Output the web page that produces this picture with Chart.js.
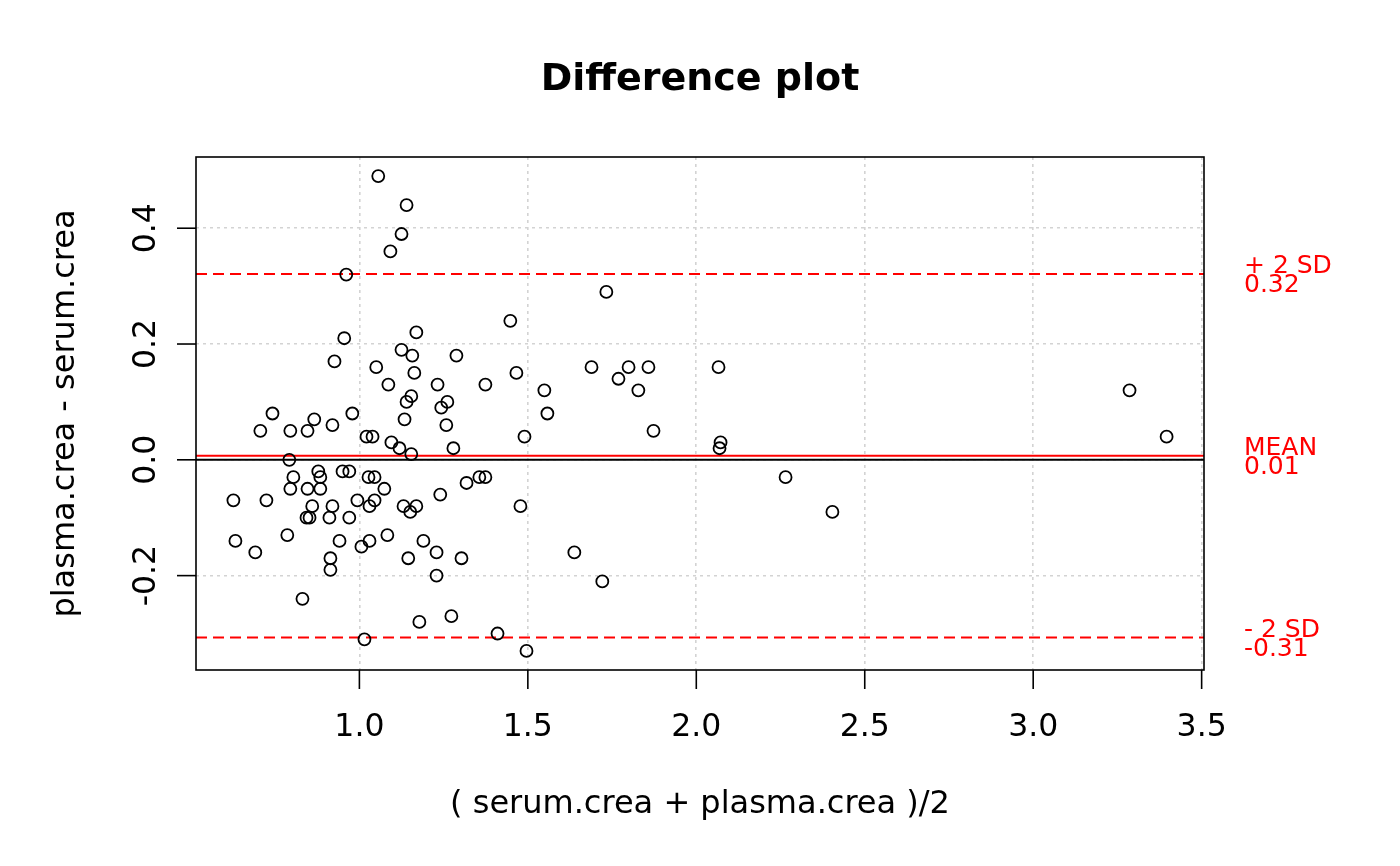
<!DOCTYPE html>
<html>
<head>
<meta charset="utf-8">
<title>Difference plot</title>
<script src="https://cdn.jsdelivr.net/npm/chart.js@4.4.1/dist/chart.umd.min.js"></script>
<style>
  html, body { margin: 0; padding: 0; background: #fff; }
  #wrap { width: 1400px; height: 866px; }
</style>
</head>
<body>
<div id="wrap"><canvas id="plot" width="1400" height="866"></canvas></div>
<script>
// (serum + plasma)/2 for each sample
const meanVals = [
  0.626, 0.632, 0.691, 0.706, 0.724, 0.742, 0.786, 0.792, 0.795, 0.795,
  0.804, 0.831, 0.843, 0.846, 0.846, 0.852, 0.860, 0.866, 0.878, 0.884,
  0.884, 0.911, 0.914, 0.914, 0.920, 0.920, 0.926, 0.941, 0.950, 0.955,
  0.961, 0.970, 0.970, 0.979, 0.994, 1.006, 1.015, 1.021, 1.027, 1.030,
  1.030, 1.039, 1.045, 1.045, 1.050, 1.056, 1.074, 1.083, 1.086, 1.092,
  1.095, 1.119, 1.125, 1.125, 1.131, 1.134, 1.140, 1.140, 1.145, 1.151,
  1.154, 1.154, 1.157, 1.163, 1.169, 1.169, 1.178, 1.190, 1.229, 1.229,
  1.232, 1.240, 1.243, 1.258, 1.261, 1.273, 1.279, 1.288, 1.303, 1.318,
  1.356, 1.374, 1.374, 1.410, 1.448, 1.466, 1.478, 1.490, 1.496, 1.549,
  1.558, 1.638, 1.689, 1.721, 1.733, 1.769, 1.799, 1.828, 1.858, 1.873,
  2.066, 2.069, 2.072, 2.265, 2.404, 3.286, 3.396
];
// plasma - serum for each sample
const diffVals = [
  -0.07, -0.14, -0.16, 0.05, -0.07, 0.08, -0.13, 0.00, 0.05, -0.05,
  -0.03, -0.24, -0.10, 0.05, -0.05, -0.10, -0.08, 0.07, -0.02, -0.03,
  -0.05, -0.10, -0.17, -0.19, -0.08, 0.06, 0.17, -0.14, -0.02, 0.21,
  0.32, -0.02, -0.10, 0.08, -0.07, -0.15, -0.31, 0.04, -0.03, -0.08,
  -0.14, 0.04, -0.03, -0.07, 0.16, 0.49, -0.05, -0.13, 0.13, 0.36,
  0.03, 0.02, 0.19, 0.39, -0.08, 0.07, 0.44, 0.10, -0.17, -0.09,
  0.11, 0.01, 0.18, 0.15, -0.08, 0.22, -0.28, -0.14, -0.16, -0.20,
  0.13, -0.06, 0.09, 0.06, 0.10, -0.27, 0.02, 0.18, -0.17, -0.04,
  -0.03, -0.03, 0.13, -0.30, 0.24, 0.15, -0.08, 0.04, -0.33, 0.12,
  0.08, -0.16, 0.16, -0.21, 0.29, 0.14, 0.16, 0.12, 0.16, 0.05,
  0.16, 0.02, 0.03, -0.03, -0.09, 0.12, 0.04
];
const xTicks = [1.0, 1.5, 2.0, 2.5, 3.0, 3.5];
const yTicks = [-0.2, 0.0, 0.2, 0.4];
const xRange = [0.515, 3.507];
const yRange = [-0.363, 0.523];
const meanDiff = 0.007;
const upperLimit = 0.321;
const lowerLimit = -0.307;
const refLines = [
  { value: upperLimit, text: ["+ 2 SD", "0.32"] },
  { value: meanDiff, text: ["MEAN", "0.01"] },
  { value: lowerLimit, text: ["- 2 SD", "-0.31"] }
];

const FONT = '"DejaVu Sans", "Liberation Sans", sans-serif';

const points = meanVals.map((m, i) => ({ x: m, y: diffVals[i] }));
const hLine = v => [{ x: xRange[0], y: v }, { x: xRange[1], y: v }];

// axes, box, titles and the red labels, drawn R-style from the chart scales
const rAxes = {
  id: 'rAxes',
  afterDraw(chart) {
    const ctx = chart.ctx;
    const a = chart.chartArea;
    const xs = chart.scales.x, ys = chart.scales.y;
    ctx.save();
    ctx.strokeStyle = '#000';
    ctx.lineWidth = 1.6;
    ctx.strokeRect(a.left, a.top, a.right - a.left, a.bottom - a.top);

    ctx.fillStyle = '#000';
    ctx.font = '31.5px ' + FONT;
    ctx.textAlign = 'center';
    ctx.textBaseline = 'middle';
    xTicks.forEach(v => {
      const px = xs.getPixelForValue(v);
      ctx.beginPath();
      ctx.moveTo(px, a.bottom);
      ctx.lineTo(px, a.bottom + 19);
      ctx.stroke();
      ctx.fillText(v.toFixed(1), px, a.bottom + 58);
    });
    yTicks.forEach(v => {
      const py = ys.getPixelForValue(v);
      ctx.beginPath();
      ctx.moveTo(a.left, py);
      ctx.lineTo(a.left - 19, py);
      ctx.stroke();
      ctx.save();
      ctx.translate(a.left - 49, py);
      ctx.rotate(-Math.PI / 2);
      ctx.fillText(v.toFixed(1), 0, 0);
      ctx.restore();
    });

    ctx.font = '32px ' + FONT;
    ctx.fillText('( serum.crea + plasma.crea )/2', (a.left + a.right) / 2, 805);
    ctx.save();
    ctx.translate(66, (a.top + a.bottom) / 2);
    ctx.rotate(-Math.PI / 2);
    ctx.fillText('plasma.crea - serum.crea', 0, 0);
    ctx.restore();

    ctx.font = 'bold 38px ' + FONT;
    ctx.fillText('Difference plot', (a.left + a.right) / 2, 80);

    ctx.fillStyle = '#ff0000';
    ctx.font = '25px ' + FONT;
    ctx.textAlign = 'left';
    refLines.forEach(r => {
      const py = ys.getPixelForValue(r.value);
      ctx.fillText(r.text[0], a.right + 40, py - 7.5);
      ctx.fillText(r.text[1], a.right + 40, py + 11.5);
    });
    ctx.restore();
  }
};

new Chart(document.getElementById('plot'), {
  type: 'scatter',
  data: {
    datasets: [
      {
        data: points,
        pointStyle: 'circle',
        pointRadius: 6,
        pointBorderWidth: 1.8,
        pointBackgroundColor: 'rgba(0,0,0,0)',
        pointBorderColor: '#000',
        showLine: false,
        order: 1
      },
      {
        type: 'line', data: hLine(0), borderColor: '#000', borderWidth: 2,
        pointRadius: 0, order: 2
      },
      {
        type: 'line', data: hLine(meanDiff), borderColor: '#ff0000', borderWidth: 2,
        pointRadius: 0, order: 2
      },
      {
        type: 'line', data: hLine(upperLimit), borderColor: '#ff0000', borderWidth: 2,
        borderDash: [11, 6], pointRadius: 0, order: 2
      },
      {
        type: 'line', data: hLine(lowerLimit), borderColor: '#ff0000', borderWidth: 2,
        borderDash: [11, 6], pointRadius: 0, order: 2
      }
    ]
  },
  options: {
    responsive: false,
    animation: false,
    events: [],
    layout: { padding: { left: 196, right: 196, top: 157, bottom: 196 } },
    plugins: { legend: { display: false }, tooltip: { enabled: false } },
    scales: {
      x: {
        type: 'linear',
        min: xRange[0],
        max: xRange[1],
        afterBuildTicks: s => { s.ticks = xTicks.map(v => ({ value: v })); },
        afterFit: s => { s.height = 0; },
        ticks: { display: false },
        grid: { color: '#d3d3d3', lineWidth: 1.6, drawTicks: false },
        border: { display: false, dash: [3, 4] }
      },
      y: {
        type: 'linear',
        min: yRange[0],
        max: yRange[1],
        afterBuildTicks: s => { s.ticks = yTicks.map(v => ({ value: v })); },
        afterFit: s => { s.width = 0; },
        ticks: { display: false },
        grid: { color: '#d3d3d3', lineWidth: 1.6, drawTicks: false },
        border: { display: false, dash: [3, 4] }
      }
    }
  },
  plugins: [rAxes]
});
</script>
</body>
</html>
